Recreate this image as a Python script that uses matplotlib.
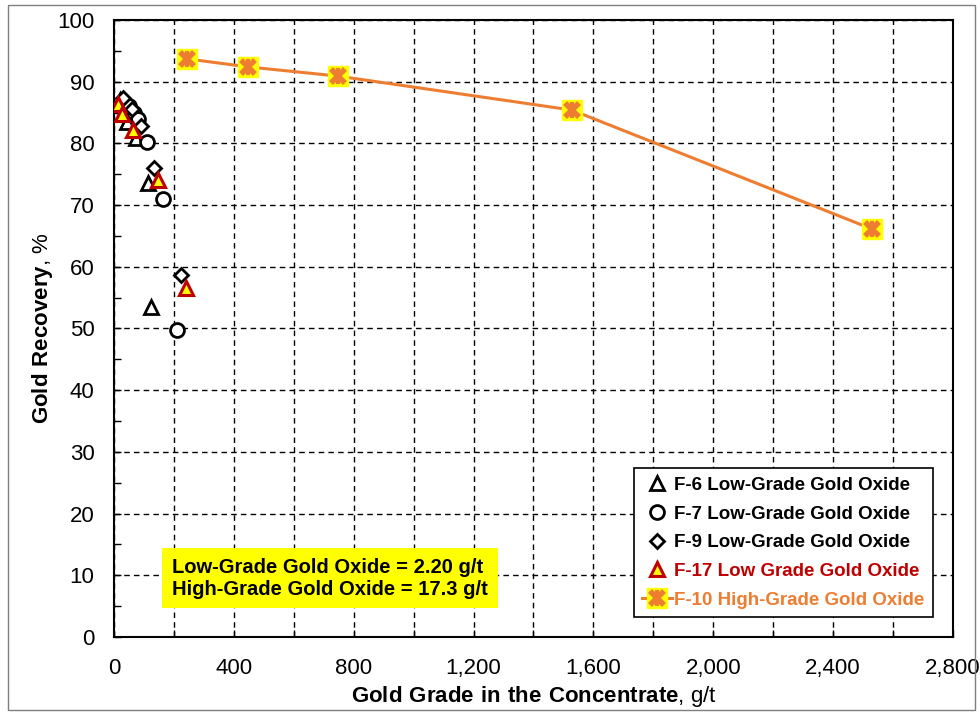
import matplotlib
matplotlib.use('Agg')
import matplotlib.pyplot as plt
from matplotlib.ticker import MultipleLocator, FuncFormatter
from matplotlib.patches import Rectangle
from matplotlib.transforms import IdentityTransform
from matplotlib.legend_handler import HandlerTuple

plt.rcParams['font.family'] = ['Liberation Sans', 'DejaVu Sans']
plt.rcParams['mathtext.fontset'] = 'custom'
plt.rcParams['mathtext.bf'] = 'Liberation Sans:bold'
plt.rcParams['mathtext.rm'] = 'Liberation Sans'

# gold grade in concentrate (g/t) and gold recovery (%) for each test
f6_grade = [20, 45, 75, 115, 125]
f6_rec = [87.0, 83.5, 80.8, 73.5, 53.5]
f7_grade = [50, 68, 80, 110, 165, 210]
f7_rec = [86.0, 85.0, 84.0, 80.3, 71.0, 49.7]
f9_grade = [30, 60, 90, 133, 223]
f9_rec = [87.3, 85.5, 82.8, 76.0, 58.6]
f17_grade = [12, 28, 62, 148, 240]
f17_rec = [86.3, 84.8, 82.1, 74.0, 56.5]
f10_grade = [243, 447, 748, 1528, 2531]
f10_rec = [93.7, 92.4, 90.9, 85.4, 66.1]

labels = ['F-6 Low-Grade Gold Oxide', 'F-7 Low-Grade Gold Oxide',
          'F-9 Low-Grade Gold Oxide', 'F-17 Low Grade Gold Oxide',
          'F-10 High-Grade Gold Oxide']
note = 'Low-Grade Gold Oxide = 2.20 g/t\nHigh-Grade Gold Oxide = 17.3 g/t'

orange = '#ED7D31'
red = '#C00000'
yellow = '#FFFF00'

fig = plt.figure(figsize=(9.8, 7.13), dpi=100)
ax = fig.add_axes([0.1163, 0.1066, 0.8561, 0.8654])

# outer chart-area border
fig.patches.append(Rectangle((8 / 980, 3 / 713), 967 / 980, 705 / 713,
                             transform=fig.transFigure, fill=False,
                             edgecolor='#7f7f7f', lw=1.0))

ms = 10
h6, = ax.plot(f6_grade, f6_rec, ls='none', marker='^', ms=ms, mfc='white',
              mec='black', mew=2, zorder=3)
h7, = ax.plot(f7_grade, f7_rec, ls='none', marker='o', ms=ms, mfc='white',
              mec='black', mew=2, zorder=3)
h9, = ax.plot(f9_grade, f9_rec, ls='none', marker='D', ms=7.5, mfc='white',
              mec='black', mew=2, zorder=3)
h17, = ax.plot(f17_grade, f17_rec, ls='none', marker='^', ms=ms, mfc=yellow,
               mec=red, mew=2.2, zorder=4)
h10a, = ax.plot(f10_grade, f10_rec, color=orange, lw=2.2, marker='s', ms=15,
                mfc=yellow, mec=yellow, mew=1, zorder=5)
h10b, = ax.plot(f10_grade, f10_rec, ls='none', marker='x', ms=10.5,
                mec=orange, mew=4, zorder=6)
h10c, = ax.plot(f10_grade, f10_rec, ls='none', marker='|', ms=11,
                mec=orange, mew=3, zorder=6)

ax.set_xlim(0, 2800)
ax.set_ylim(0, 100)
ax.xaxis.set_major_locator(MultipleLocator(400))
ax.xaxis.set_minor_locator(MultipleLocator(200))
ax.yaxis.set_major_locator(MultipleLocator(10))
ax.yaxis.set_minor_locator(MultipleLocator(5))
ax.xaxis.set_major_formatter(FuncFormatter(lambda v, p: '{:,.0f}'.format(v)))
ax.tick_params(which='both', direction='in', length=5, width=1,
               labelsize=16)
ax.tick_params(axis='y', pad=14)
ax.tick_params(axis='x', pad=15)
ax.grid(which='major', color='black', ls=(0, (4, 3)), lw=1.0)
ax.grid(which='minor', axis='x', color='black', ls=(0, (4, 3)), lw=1.0)
for s in ax.spines.values():
    s.set_linewidth(1.5)

ax.set_xlabel(r'$\bf{Gold\ Grade\ in\ the\ Concentrate}$, g/t', fontsize=16,
              labelpad=4)
ax.set_ylabel(r'$\bf{Gold\ Recovery}$, %', fontsize=16, labelpad=2)

leg = ax.legend([h6, h7, h9, h17, (h10a, h10b, h10c)], labels,
                handler_map={tuple: HandlerTuple(ndivide=1)},
                loc='lower right', bbox_to_anchor=(0.976, 0.032),
                prop={'weight': 'bold', 'size': 13.5},
                frameon=True, fancybox=False, edgecolor='black',
                framealpha=1, handlelength=1.6, handletextpad=0.1,
                labelspacing=0.62, borderpad=0.45, borderaxespad=0)
leg.get_frame().set_linewidth(1.2)
for t, c in zip(leg.get_texts(), ['black', 'black', 'black', red, orange]):
    t.set_color(c)

# yellow note box (pixel coordinates)
ax.add_artist(Rectangle((162, 105), 336, 60, transform=IdentityTransform(),
                        facecolor=yellow, edgecolor='none', zorder=7))
ax.text(172, 134.5, note, transform=IdentityTransform(), fontsize=14.5,
        fontweight='bold', va='center', ha='left', linespacing=1.15,
        zorder=8)

fig.savefig('out.png', dpi=100)
